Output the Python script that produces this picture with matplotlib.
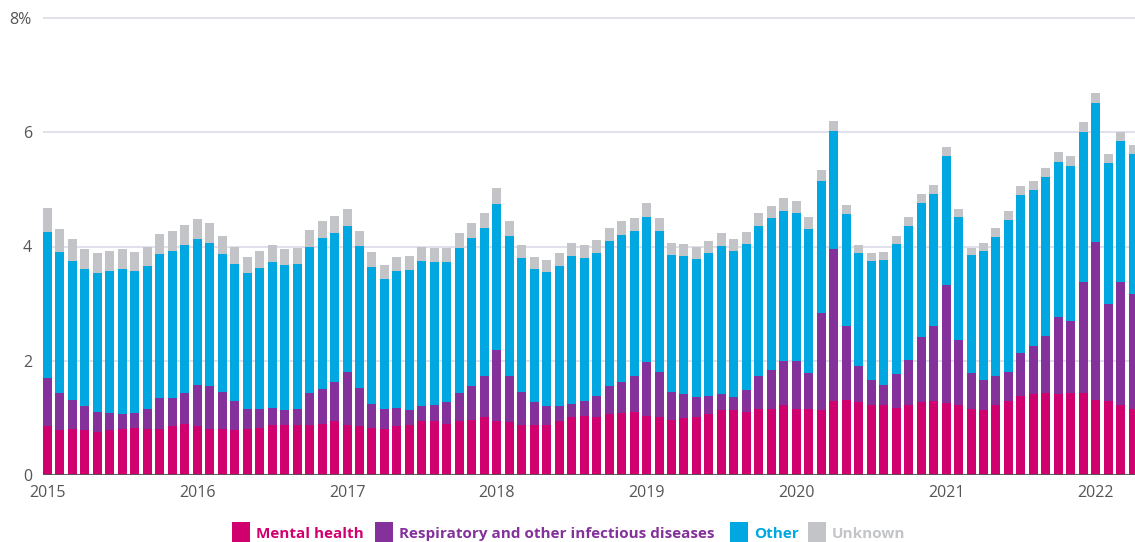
import matplotlib
matplotlib.use("Agg")
import matplotlib.pyplot as plt
from matplotlib.patches import Rectangle
import numpy as np

months = [f"{y}-{m:02d}" for y in range(2015, 2023) for m in range(1, 13)][:88]

mental = [0.85, 0.78, 0.80, 0.78, 0.76, 0.78, 0.81, 0.83, 0.80, 0.81, 0.85, 0.90,
          0.85, 0.81, 0.80, 0.78, 0.80, 0.83, 0.87, 0.88, 0.87, 0.88, 0.90, 0.94,
          0.87, 0.85, 0.83, 0.80, 0.85, 0.87, 0.94, 0.94, 0.90, 0.94, 0.97, 1.01,
          0.95, 0.92, 0.88, 0.87, 0.88, 0.95, 1.02, 1.04, 1.01, 1.06, 1.08, 1.11,
          1.04, 1.01, 0.97, 0.99, 1.02, 1.06, 1.13, 1.13, 1.11, 1.15, 1.16, 1.22,
          1.15, 1.15, 1.13, 1.29, 1.32, 1.27, 1.23, 1.22, 1.18, 1.22, 1.27, 1.30,
          1.26, 1.22, 1.15, 1.13, 1.23, 1.30, 1.39, 1.41, 1.43, 1.41, 1.43, 1.44,
          1.32, 1.30, 1.22, 1.16]
respiratory = [0.84, 0.65, 0.52, 0.42, 0.35, 0.30, 0.25, 0.25, 0.36, 0.53, 0.49, 0.54,
               0.72, 0.74, 0.66, 0.51, 0.35, 0.32, 0.31, 0.25, 0.29, 0.55, 0.60, 0.68,
               0.94, 0.68, 0.42, 0.35, 0.33, 0.26, 0.26, 0.28, 0.37, 0.50, 0.58, 0.73,
               1.23, 0.82, 0.58, 0.40, 0.32, 0.25, 0.23, 0.25, 0.38, 0.49, 0.54, 0.62,
               0.93, 0.79, 0.49, 0.42, 0.34, 0.33, 0.28, 0.24, 0.37, 0.59, 0.67, 0.77,
               0.84, 0.63, 1.70, 2.66, 1.28, 0.63, 0.43, 0.35, 0.58, 0.80, 1.14, 1.30,
               2.06, 1.14, 0.63, 0.54, 0.50, 0.51, 0.74, 0.84, 1.01, 1.35, 1.26, 1.93,
               2.76, 1.69, 2.15, 2.00]
other = [2.56, 2.47, 2.42, 2.40, 2.42, 2.49, 2.54, 2.49, 2.49, 2.53, 2.58, 2.58,
         2.56, 2.51, 2.41, 2.40, 2.38, 2.47, 2.55, 2.54, 2.53, 2.56, 2.65, 2.61,
         2.55, 2.48, 2.39, 2.28, 2.39, 2.45, 2.54, 2.51, 2.46, 2.53, 2.60, 2.58,
         2.56, 2.44, 2.34, 2.33, 2.35, 2.45, 2.58, 2.51, 2.50, 2.54, 2.58, 2.54,
         2.55, 2.47, 2.39, 2.42, 2.42, 2.49, 2.60, 2.55, 2.56, 2.62, 2.67, 2.63,
         2.59, 2.52, 2.32, 2.07, 1.97, 1.98, 2.08, 2.19, 2.28, 2.34, 2.35, 2.32,
         2.26, 2.15, 2.07, 2.25, 2.43, 2.65, 2.77, 2.74, 2.78, 2.72, 2.72, 2.64,
         2.43, 2.47, 2.48, 2.46]
unknown = [0.42, 0.40, 0.39, 0.35, 0.35, 0.35, 0.35, 0.33, 0.34, 0.35, 0.35, 0.35,
           0.35, 0.35, 0.31, 0.30, 0.28, 0.30, 0.29, 0.28, 0.28, 0.30, 0.29, 0.30,
           0.29, 0.26, 0.26, 0.24, 0.24, 0.25, 0.25, 0.24, 0.24, 0.26, 0.26, 0.26,
           0.28, 0.26, 0.22, 0.21, 0.21, 0.23, 0.23, 0.22, 0.22, 0.23, 0.24, 0.23,
           0.24, 0.23, 0.21, 0.21, 0.21, 0.21, 0.22, 0.21, 0.21, 0.22, 0.21, 0.23,
           0.22, 0.21, 0.19, 0.18, 0.16, 0.14, 0.14, 0.14, 0.14, 0.15, 0.16, 0.16,
           0.16, 0.14, 0.12, 0.14, 0.16, 0.16, 0.16, 0.16, 0.15, 0.17, 0.17, 0.17,
           0.18, 0.16, 0.16, 0.16]

series_names = ["Mental health", "Respiratory and other infectious diseases", "Other", "Unknown"]
colors = ["#d1006f", "#84319b", "#00a7e0", "#c2c4c7"]
yticks = [0, 2, 4, 6, 8]
ytick_labels = ["0", "2", "4", "6", "8%"]
year_labels = [str(y) for y in range(2015, 2023)]

plt.rcParams['font.family'] = ['Open Sans', 'DejaVu Sans']

W, H = 1135, 542
fig = plt.figure(figsize=(W / 100, H / 100), dpi=100)
ax = fig.add_axes([43 / W, (H - 475) / H, 1 - 43 / W, 8.1 * 57.125 / H])

x = np.arange(len(months))
bottom = np.zeros(len(months))
for vals, c in zip([mental, respiratory, other, unknown], colors):
    v = np.array(vals)
    ax.bar(x, v, bottom=bottom, width=0.72, color=c, linewidth=0, zorder=3)
    bottom += v

ax.set_xlim(-0.36, 87.14)
ax.set_ylim(0, 8.1)
for t in yticks[1:]:
    ax.axhline(t, color="#dcdbea", lw=1.2, zorder=1)
ax.axhline(0, color="#555555", lw=2, zorder=4)

ax.set_yticks(yticks)
ax.set_yticklabels(ytick_labels)
ax.set_xticks(np.arange(0, len(months), 12))
ax.set_xticklabels(year_labels)
ax.tick_params(axis='both', length=0, labelsize=11.5, labelcolor="#555555")
ax.tick_params(axis='y', pad=8)
ax.tick_params(axis='x', pad=7)
for s in ax.spines.values():
    s.set_visible(False)

# Legend
leg_x = [232, 375, 730, 808]
for name, c, lx in zip(series_names, colors, leg_x):
    fig.add_artist(Rectangle((lx / W, 0), 18 / W, 20 / H, transform=fig.transFigure,
                             color=c, linewidth=0))
    fig.text((lx + 24) / W, (H - 534) / H, name, color=c, fontsize=11,
             fontweight='bold', va='center', ha='left')

fig.savefig("out.png", dpi=100)
